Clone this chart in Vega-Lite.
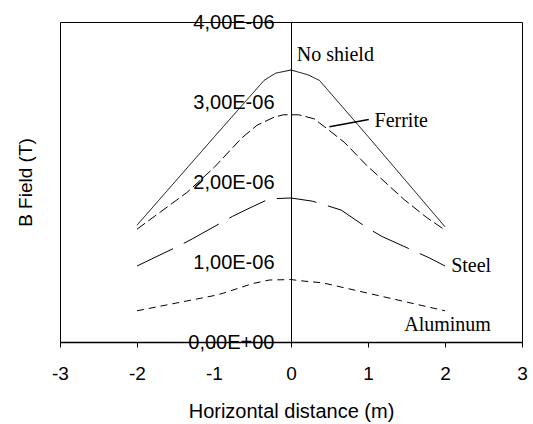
{
  "$schema": "https://vega.github.io/schema/vega-lite/v6.json",
  "autosize": {"type": "none"},
  "padding": {"left": 60, "top": 22, "right": 11, "bottom": 82},
  "width": 462,
  "height": 320,
  "background": "white",
  "config": {
    "view": {"stroke": "black", "strokeWidth": 1},
    "axis": {"grid": false, "domainColor": "black", "tickColor": "black", "labelColor": "black", "titleColor": "black", "labelFont": "Liberation Sans", "titleFont": "Liberation Sans", "titleFontWeight": "normal"}
  },
  "datasets": {
    "curves": [
      {"x": -2, "y": 1.46e-6, "series": "No shield"},
      {"x": -1, "y": 2.56e-6, "series": "No shield"},
      {"x": -0.35, "y": 3.27e-6, "series": "No shield"},
      {"x": -0.2, "y": 3.36e-6, "series": "No shield"},
      {"x": 0, "y": 3.40e-6, "series": "No shield"},
      {"x": 0.22, "y": 3.34e-6, "series": "No shield"},
      {"x": 0.37, "y": 3.27e-6, "series": "No shield"},
      {"x": 1, "y": 2.57e-6, "series": "No shield"},
      {"x": 2, "y": 1.44e-6, "series": "No shield"},
      {"x": -2, "y": 1.41e-6, "series": "Ferrite"},
      {"x": -1.35, "y": 1.87e-6, "series": "Ferrite"},
      {"x": -1, "y": 2.18e-6, "series": "Ferrite"},
      {"x": -0.64, "y": 2.55e-6, "series": "Ferrite"},
      {"x": -0.44, "y": 2.71e-6, "series": "Ferrite"},
      {"x": -0.22, "y": 2.81e-6, "series": "Ferrite"},
      {"x": -0.1, "y": 2.84e-6, "series": "Ferrite"},
      {"x": 0.1, "y": 2.84e-6, "series": "Ferrite"},
      {"x": 0.3, "y": 2.79e-6, "series": "Ferrite"},
      {"x": 0.49, "y": 2.65e-6, "series": "Ferrite"},
      {"x": 0.7, "y": 2.49e-6, "series": "Ferrite"},
      {"x": 0.98, "y": 2.21e-6, "series": "Ferrite"},
      {"x": 1.47, "y": 1.78e-6, "series": "Ferrite"},
      {"x": 1.77, "y": 1.55e-6, "series": "Ferrite"},
      {"x": 2, "y": 1.40e-6, "series": "Ferrite"},
      {"x": -2, "y": 0.95e-6, "series": "Steel"},
      {"x": -1.46, "y": 1.20e-6, "series": "Steel"},
      {"x": -1.28, "y": 1.29e-6, "series": "Steel"},
      {"x": -0.76, "y": 1.57e-6, "series": "Steel"},
      {"x": -0.57, "y": 1.66e-6, "series": "Steel"},
      {"x": -0.28, "y": 1.79e-6, "series": "Steel"},
      {"x": 0, "y": 1.80e-6, "series": "Steel"},
      {"x": 0.28, "y": 1.76e-6, "series": "Steel"},
      {"x": 0.65, "y": 1.65e-6, "series": "Steel"},
      {"x": 1, "y": 1.42e-6, "series": "Steel"},
      {"x": 1.18, "y": 1.32e-6, "series": "Steel"},
      {"x": 1.8, "y": 1.05e-6, "series": "Steel"},
      {"x": 2, "y": 0.95e-6, "series": "Steel"},
      {"x": -2, "y": 0.39e-6, "series": "Aluminum"},
      {"x": -1, "y": 0.58e-6, "series": "Aluminum"},
      {"x": -0.88, "y": 0.61e-6, "series": "Aluminum"},
      {"x": -0.5, "y": 0.73e-6, "series": "Aluminum"},
      {"x": -0.28, "y": 0.775e-6, "series": "Aluminum"},
      {"x": 0, "y": 0.78e-6, "series": "Aluminum"},
      {"x": 0.18, "y": 0.76e-6, "series": "Aluminum"},
      {"x": 0.41, "y": 0.74e-6, "series": "Aluminum"},
      {"x": 1, "y": 0.61e-6, "series": "Aluminum"},
      {"x": 2, "y": 0.39e-6, "series": "Aluminum"}
    ],
    "labels": [
      {"x": 0.074, "y": 3.51e-6, "text": "No shield"},
      {"x": 1.085, "y": 2.69e-6, "text": "Ferrite"},
      {"x": 2.08, "y": 0.875e-6, "text": "Steel"},
      {"x": 1.47, "y": 0.14e-6, "text": "Aluminum"}
    ],
    "leader": [
      {"x": 0.5, "y": 2.69e-6, "x2": 1.01, "y2": 2.78e-6}
    ]
  },
  "layer": [
    {
      "data": {"name": "curves"},
      "mark": {"type": "line", "color": "black", "strokeWidth": 1},
      "encoding": {
        "x": {
          "field": "x", "type": "quantitative",
          "scale": {"domain": [-3, 3], "nice": false, "zero": false},
          "axis": {
            "values": [-3, -2, -1, 0, 1, 2, 3],
            "labelExpr": "'' + datum.value",
            "labelFlush": false,
            "labelOverlap": false,
            "title": "Horizontal distance (m)",
            "labelFontSize": 19, "titleFontSize": 20,
            "tickSize": 5, "labelPadding": 17,
            "titleY": 69, "titleBaseline": "middle",
            "domainWidth": 1.5
          }
        },
        "y": {
          "field": "y", "type": "quantitative",
          "scale": {"domain": [0, 4e-6], "nice": false},
          "axis": {
            "values": [0, 1e-6, 2e-6, 3e-6, 4e-6],
            "offset": -231,
            "ticks": false,
            "labelPadding": 17,
            "labelFontSize": 20,
            "labelFlush": false,
            "labelExpr": "replace(format(datum.value*1000000, '.2f'), '.', ',') + (datum.value == 0 ? 'E+00' : 'E-06')",
            "title": "B Field (T)",
            "titleFontSize": 19,
            "titleX": -266,
            "titleY": 160,
            "titleAngle": -90,
            "titleAlign": "center",
            "titleBaseline": "middle"
          }
        },
        "detail": {"field": "series"},
        "strokeDash": {
          "field": "series", "type": "nominal",
          "scale": {"domain": ["No shield", "Ferrite", "Steel", "Aluminum"], "range": [[1, 0], [10, 4], [40, 12], [7, 5]]},
          "legend": null
        }
      }
    },
    {
      "data": {"name": "leader"},
      "mark": {"type": "rule", "color": "black", "strokeWidth": 1.5},
      "encoding": {
        "x": {"field": "x", "type": "quantitative"},
        "y": {"field": "y", "type": "quantitative"},
        "x2": {"field": "x2"},
        "y2": {"field": "y2"}
      }
    },
    {
      "data": {"name": "labels"},
      "mark": {"type": "text", "font": "Liberation Serif", "fontSize": 20, "align": "left", "baseline": "alphabetic", "color": "black"},
      "encoding": {
        "x": {"field": "x", "type": "quantitative"},
        "y": {"field": "y", "type": "quantitative"},
        "text": {"field": "text"}
      }
    }
  ]
}
